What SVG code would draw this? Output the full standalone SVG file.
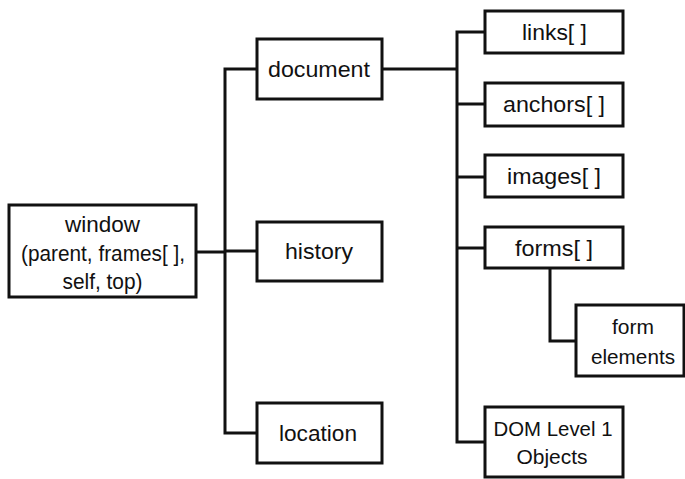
<svg xmlns="http://www.w3.org/2000/svg" width="685" height="479" viewBox="0 0 685 479">
  <style>
    .box { fill: #fff; stroke: #111; stroke-width: 3; }
    .wire { fill: none; stroke: #111; stroke-width: 3; stroke-linejoin: miter; }
    text { font-family: "Liberation Sans", Arial, Helvetica, sans-serif; font-size: 22px; fill: #111; text-anchor: middle; }
    .tight { font-size: 21px; }
  </style>
  <rect width="685" height="479" fill="#fff"/>

  <!-- connectors -->
  <g id="connectors">
    <!-- window to its children -->
    <path class="wire" d="M196 252 H225"/>
    <path class="wire" d="M257 69 H225 V433 H257"/>
    <path class="wire" d="M225 251 H257"/>
    <!-- document to its children -->
    <path class="wire" d="M382 69 H457"/>
    <path class="wire" d="M485 32 H457 V442 H485"/>
    <path class="wire" d="M457 104 H485"/>
    <path class="wire" d="M457 177 H485"/>
    <path class="wire" d="M457 248 H485"/>
    <!-- forms to form elements -->
    <path class="wire" d="M550 268 V341 H576"/>
  </g>

  <g id="window">
    <rect class="box" x="9" y="205" width="187" height="92"/>
    <text x="102.5" y="232" textLength="75" lengthAdjust="spacingAndGlyphs">window</text>
    <text x="103" y="261" textLength="164" lengthAdjust="spacingAndGlyphs">(parent, frames[ ],</text>
    <text x="102.5" y="289" textLength="80" lengthAdjust="spacingAndGlyphs">self, top)</text>
  </g>

  <g id="document">
    <rect class="box" x="257" y="39" width="125" height="60"/>
    <text x="319" y="77" textLength="102" lengthAdjust="spacingAndGlyphs">document</text>
  </g>

  <g id="history">
    <rect class="box" x="257" y="222" width="125" height="59"/>
    <text x="319" y="259" textLength="68" lengthAdjust="spacingAndGlyphs">history</text>
  </g>

  <g id="location">
    <rect class="box" x="257" y="403" width="125" height="60"/>
    <text x="318" y="441" textLength="78" lengthAdjust="spacingAndGlyphs">location</text>
  </g>

  <g id="links">
    <rect class="box" x="485" y="11" width="138" height="42"/>
    <text x="554.5" y="40" textLength="65" lengthAdjust="spacingAndGlyphs">links[ ]</text>
  </g>

  <g id="anchors">
    <rect class="box" x="485" y="83" width="138" height="43"/>
    <text x="554" y="112" textLength="102" lengthAdjust="spacingAndGlyphs">anchors[ ]</text>
  </g>

  <g id="images">
    <rect class="box" x="485" y="155" width="138" height="42"/>
    <text x="554" y="184" textLength="94" lengthAdjust="spacingAndGlyphs">images[ ]</text>
  </g>

  <g id="forms">
    <rect class="box" x="485" y="227" width="138" height="41"/>
    <text x="554" y="256" textLength="78" lengthAdjust="spacingAndGlyphs">forms[ ]</text>
  </g>

  <g id="form-elements">
    <rect class="box" x="576" y="305" width="108" height="71"/>
    <text class="tight" x="633" y="334" textLength="42" lengthAdjust="spacingAndGlyphs">form</text>
    <text class="tight" x="633" y="364" textLength="84" lengthAdjust="spacingAndGlyphs">elements</text>
  </g>

  <g id="dom-level-1">
    <rect class="box" x="485" y="407" width="138" height="70"/>
    <text class="tight" x="553" y="436" textLength="119" lengthAdjust="spacingAndGlyphs">DOM Level 1</text>
    <text class="tight" x="552" y="464" textLength="71" lengthAdjust="spacingAndGlyphs">Objects</text>
  </g>
</svg>
